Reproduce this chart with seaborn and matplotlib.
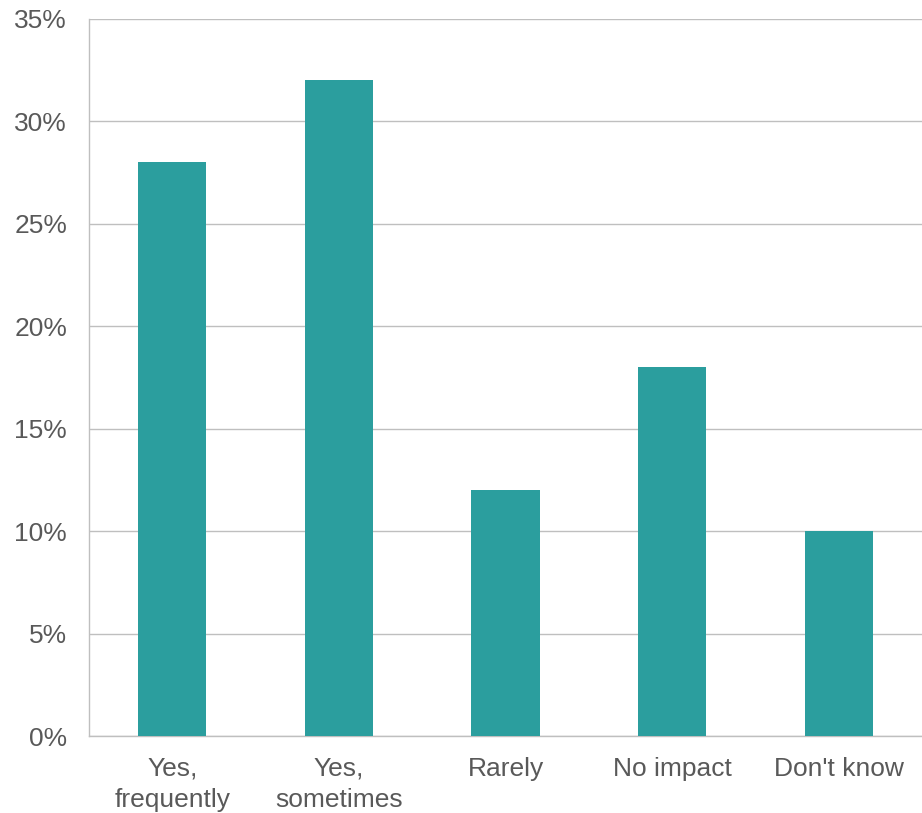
import matplotlib
matplotlib.use("Agg")
import matplotlib.pyplot as plt
import seaborn as sns
import pandas as pd
from matplotlib.ticker import PercentFormatter, FixedLocator

categories = ["Yes,\nfrequently", "Yes,\nsometimes", "Rarely", "No impact", "Don't know"]
shares = [28, 32, 12, 18, 10]
y_ticks = [0, 5, 10, 15, 20, 25, 30, 35]

bar_color = "#2B9E9E"
text_color = "#595959"
grid_color = "#BFBFBF"

sns.set_theme(style="white")
plt.rcParams["font.family"] = ["Liberation Sans", "DejaVu Sans"]

df = pd.DataFrame({"category": categories, "share": shares})

fig = plt.figure(figsize=(9.22, 8.13), dpi=100)
ax = fig.add_axes([89 / 922, 1 - 736 / 813, 1 - 89 / 922, (736 - 19) / 813])

sns.barplot(data=df, x="category", y="share", color=bar_color, width=0.41,
            saturation=1, linewidth=0, ax=ax, zorder=3)

ax.set_xlim(-0.5, len(categories) - 0.5)
ax.set_ylim(0, 35)
ax.set_yticks(y_ticks)
ax.yaxis.set_major_formatter(PercentFormatter(decimals=0))
ax.grid(axis="y", color=grid_color, linewidth=1, zorder=0)
ax.set_axisbelow(True)

for side in ["top", "right"]:
    ax.spines[side].set_visible(False)
ax.spines["left"].set_color(grid_color)
ax.spines["bottom"].set_color(grid_color)
ax.spines["left"].set_linewidth(1)
ax.spines["bottom"].set_linewidth(1)

ax.set_xlabel("")
ax.set_ylabel("")

# category labels without marks; marks sit between categories
ax.tick_params(axis="x", which="major", length=0, labelsize=19, colors=text_color, pad=15)
ax.xaxis.set_minor_locator(FixedLocator([i - 0.5 for i in range(len(categories))]))
ax.tick_params(axis="x", which="minor", length=5, width=1, color=grid_color, direction="out")
ax.tick_params(axis="y", length=5.8, width=1, color=grid_color, labelsize=19,
               labelcolor=text_color, pad=10)
for lbl in ax.get_xticklabels():
    lbl.set_linespacing(1.4)
    lbl.set_color(text_color)

fig.savefig("out.png", dpi=100)
